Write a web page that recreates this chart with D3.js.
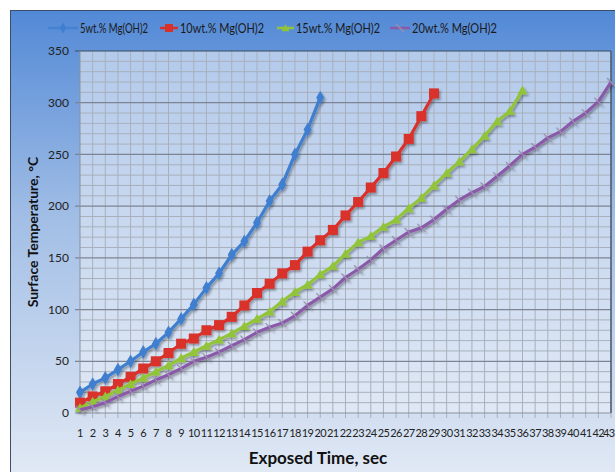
<!DOCTYPE html>
<html>
<head>
<meta charset="utf-8">
<script src="https://cdn.jsdelivr.net/npm/d3@7"></script>
<style>
  body { margin: 0; background: #fff; }
  text { font-family: Lato, "Open Sans", sans-serif; }
</style>
</head>
<body>
<script>
var w = 615;
var h = 472;

// exposed time, sec
var times = d3.range(1, 44);
var yTicks = [0, 50, 100, 150, 200, 250, 300, 350];

var seriesNames = ["5wt.% Mg(OH)2", "10wt.% Mg(OH)2", "15wt.% Mg(OH)2", "20wt.% Mg(OH)2"];

var mg5 = [20, 28, 34, 42, 50, 59, 67, 78, 91, 105, 121, 135, 153, 166, 184, 205, 221, 250, 274, 305];
var mg10 = [10, 16, 21, 28, 35, 43, 50, 58, 67, 72, 80, 85, 93, 104, 116, 125, 135, 143, 156, 167,
            177, 191, 204, 218, 232, 248, 265, 287, 309];
var mg15 = [5, 11, 16, 22, 28, 34, 40, 46, 53, 59, 65, 71, 77, 84, 91, 98, 108, 117, 124, 134,
            142, 154, 165, 171, 180, 187, 198, 208, 220, 232, 243, 255, 268, 282, 292, 312];
var mg20 = [3, 6, 10, 16, 21, 26, 32, 37, 43, 50, 54, 59, 65, 71, 78, 83, 87, 94, 104, 112,
            120, 131, 139, 148, 159, 167, 175, 179, 187, 197, 206, 213, 219, 229, 239, 250, 257,
            266, 272, 282, 290, 301, 320];

var colors = ["#3f7fcf", "#d9302a", "#92c43a", "#8a5aa8"];
var markers = ["diamond", "square", "triangle", "cross"];
var allSeries = [mg5, mg10, mg15, mg20];

var margin = { left: 80, top: 51, right: 4, bottom: 59 };

var svg = d3.select("body")
    .append("svg")
    .attr("width", w)
    .attr("height", h);

var defs = svg.append("defs");
var bg = defs.append("linearGradient").attr("id", "bg").attr("x1", 0).attr("y1", 0).attr("x2", 0).attr("y2", 1);
bg.append("stop").attr("offset", "0%").attr("stop-color", "#5289d6");
bg.append("stop").attr("offset", "45%").attr("stop-color", "#a3bfe6");
bg.append("stop").attr("offset", "100%").attr("stop-color", "#e3eaf5");

var pg = defs.append("linearGradient").attr("id", "pg").attr("x1", 0).attr("y1", 0).attr("x2", 0).attr("y2", 1);
pg.append("stop").attr("offset", "0%").attr("stop-color", "#b3caeb");
pg.append("stop").attr("offset", "100%").attr("stop-color", "#e0e8f5");

var sh = defs.append("filter").attr("id", "shadow").attr("x", "-10%").attr("y", "-10%").attr("width", "120%").attr("height", "120%");
sh.append("feDropShadow").attr("dx", 1.5).attr("dy", 2).attr("stdDeviation", 1.2)
    .attr("flood-color", "#000").attr("flood-opacity", 0.35);

// chart panel
svg.append("rect")
    .attr("x", 10.5).attr("y", 10.5)
    .attr("width", w).attr("height", h)
    .attr("fill", "url(#bg)")
    .attr("stroke", "#3d4f66")
    .attr("stroke-width", 1);

var xScale = d3.scaleLinear()
    .domain([1, 43])
    .range([margin.left, w - margin.right]);

var yScale = d3.scaleLinear()
    .domain([0, 350])
    .range([h - margin.bottom, margin.top]);

// plot area
svg.append("rect")
    .attr("x", margin.left).attr("y", margin.top)
    .attr("width", w - margin.right - margin.left)
    .attr("height", yScale(0) - margin.top)
    .attr("fill", "url(#pg)");

var grid = svg.append("g");
grid.selectAll(".vgrid")
    .data(times.slice(1))
    .enter()
    .append("line")
    .attr("x1", d => xScale(d)).attr("x2", d => xScale(d))
    .attr("y1", margin.top).attr("y2", yScale(0) + 5)
    .attr("stroke", "#a9b0bb")
    .attr("stroke-width", 1);

grid.selectAll(".minor")
    .data(d3.range(10, 350, 10).filter(v => v % 50 !== 0))
    .enter()
    .append("line")
    .attr("x1", margin.left).attr("x2", xScale(43))
    .attr("y1", d => yScale(d)).attr("y2", d => yScale(d))
    .attr("stroke", "#a9b0bb")
    .attr("stroke-width", 1);

grid.selectAll(".major")
    .data(yTicks.slice(1))
    .enter()
    .append("line")
    .attr("x1", margin.left - 5).attr("x2", xScale(43))
    .attr("y1", d => yScale(d)).attr("y2", d => yScale(d))
    .attr("stroke", d => d === 350 ? "#3a4a60" : "#7d8594")
    .attr("stroke-width", d => d === 350 ? 1.2 : 1.3);

// axes lines
svg.append("line")
    .attr("x1", margin.left).attr("x2", margin.left)
    .attr("y1", margin.top).attr("y2", yScale(0))
    .attr("stroke", "#8a919c");
svg.append("line")
    .attr("x1", xScale(43)).attr("x2", xScale(43))
    .attr("y1", margin.top).attr("y2", yScale(0))
    .attr("stroke", "#3a4a60").attr("stroke-width", 1.3);
svg.append("line")
    .attr("x1", margin.left - 5).attr("x2", xScale(43))
    .attr("y1", yScale(0)).attr("y2", yScale(0))
    .attr("stroke", "#8a919c");

// y tick labels
svg.selectAll(".ylab")
    .data(yTicks)
    .enter()
    .append("text")
    .attr("x", margin.left - 11)
    .attr("y", d => yScale(d))
    .attr("dy", "0.35em")
    .attr("text-anchor", "end")
    .attr("font-size", 12)
    .attr("fill", "#222")
    .text(d => d);

// x tick labels (the last one pulled inside the window)
svg.selectAll(".xlab")
    .data(times)
    .enter()
    .append("text")
    .attr("x", d => d === 43 ? w - 0.5 : xScale(d))
    .attr("y", yScale(0) + 24)
    .attr("text-anchor", d => d === 43 ? "end" : "middle")
    .attr("font-size", 11)
    .attr("letter-spacing", "-0.6")
    .attr("fill", "#222")
    .text(d => d);

// axis titles
svg.append("text")
    .attr("x", 318).attr("y", 464)
    .attr("text-anchor", "middle")
    .attr("font-size", 17)
    .attr("font-weight", "bold")
    .attr("font-family", "Liberation Sans, Arial, sans-serif")
    .attr("fill", "#111")
    .text("Exposed Time, sec");

svg.append("text")
    .attr("transform", "translate(38," + yScale(175) + ") rotate(-90)")
    .attr("text-anchor", "middle")
    .attr("font-size", 14)
    .attr("font-weight", "bold")
    .attr("fill", "#111")
    .text("Surface Temperature, °C");

function drawMarker(g, type, color, x, y, sz) {
    var k = sz || 1;
    if (type === "diamond") {
        g.append("path").attr("d", d3.symbol(d3.symbolDiamond, 55 * k * k)())
            .attr("transform", "translate(" + x + "," + y + ")").attr("fill", color);
    } else if (type === "square") {
        g.append("rect").attr("x", x - 5 * k).attr("y", y - 5 * k)
            .attr("width", 10 * k).attr("height", 10 * k)
            .attr("fill", color);
    } else if (type === "triangle") {
        g.append("path").attr("d", d3.symbol(d3.symbolTriangle, 45 * k * k)())
            .attr("transform", "translate(" + x + "," + (y + 1) + ")").attr("fill", color);
    } else {
        g.append("line").attr("x1", x - 4).attr("y1", y - 4).attr("x2", x + 4).attr("y2", y + 4)
            .attr("stroke", "#9b8fb0").attr("stroke-width", 1.2);
    }
}

var line = d3.line()
    .x((d, i) => xScale(times[i]))
    .y(d => yScale(d));

var plot = svg.append("g").attr("filter", "url(#shadow)");
allSeries.forEach((vals, s) => {
    var g = plot.append("g");
    g.append("path")
        .attr("d", line(vals))
        .attr("fill", "none")
        .attr("stroke", colors[s])
        .attr("stroke-width", 3.2)
        .attr("stroke-linejoin", "round");
    vals.forEach((v, i) => drawMarker(g, markers[s], colors[s], xScale(times[i]), yScale(v)));
});

// legend
var legendLine = [[48, 78], [160, 178], [277, 294], [390, 410]];
var legendText = [[80, 68], [180, 84], [296, 84], [412, 85]];
var legend = svg.append("g");
seriesNames.forEach((name, s) => {
    var l = legendLine[s];
    legend.append("line")
        .attr("x1", l[0]).attr("x2", l[1])
        .attr("y1", 28).attr("y2", 28)
        .attr("stroke", colors[s]).attr("stroke-width", 2.5)
        .attr("opacity", s === 0 ? 0.75 : 1);
    drawMarker(legend, markers[s], colors[s], (l[0] + l[1]) / 2, 28, 0.8);
    legend.append("text")
        .attr("x", legendText[s][0]).attr("y", 28)
        .attr("dy", "0.35em")
        .attr("font-size", 14)
        .attr("font-family", "'Liberation Sans Narrow', Lato, sans-serif")
        .attr("textLength", legendText[s][1])
        .attr("lengthAdjust", "spacingAndGlyphs")
        .attr("fill", "#1a1a1a")
        .text(name);
});
</script>
</body>
</html>
